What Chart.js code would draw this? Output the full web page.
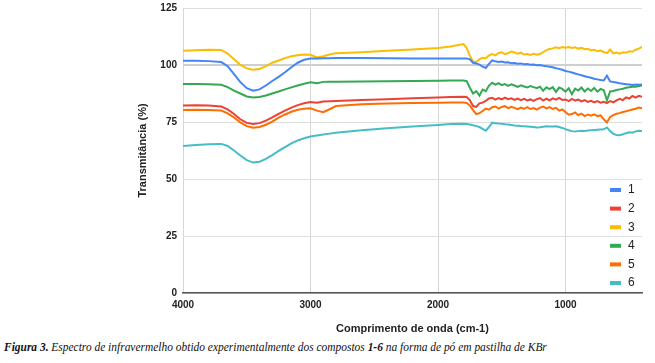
<!DOCTYPE html>
<html lang="pt">
<head>
<meta charset="UTF-8">
<title>Espectro IV</title>
<script src="https://cdn.jsdelivr.net/npm/chart.js"></script>
<style>
  body { margin: 0; background: #fff; }
  .wrap { position: relative; width: 655px; height: 363px; }
  #grafico { position: absolute; left: 0; top: 0; }
  .legenda {
    position: absolute; left: 4px; top: 340px;
    font-family: "Liberation Serif", "DejaVu Serif", serif;
    font-style: italic; font-size: 12.5px; color: #111; white-space: nowrap;
    transform: scaleX(0.915); transform-origin: 0 0;
  }
</style>
</head>
<body>
<div class="wrap">
  <canvas id="grafico" width="655" height="340"></canvas>
  <div class="legenda"><b>Figura 3.</b> Espectro de infravermelho obtido experimentalmente dos compostos <b>1-6</b> na forma de pó em pastilha de KBr</div>
</div>

<script>
// numero de onda (cm-1)
const ondas = [4000, 3900, 3800, 3700, 3650, 3600, 3550, 3500, 3450, 3400, 3350, 3300, 3250, 3200, 3150, 3100, 3050, 3000, 2950, 2900, 2850, 2800, 2600, 2400, 2200, 2000, 1900,
  1800, 1775, 1750, 1725, 1700, 1675, 1650, 1625, 1600, 1575, 1550, 1525, 1500, 1475, 1450, 1425, 1400, 1375, 1350, 1325, 1300, 1275, 1250, 1225, 1200, 1175, 1150, 1125, 1100,
  1075, 1050, 1025, 1000, 975, 950, 925, 900, 875, 850, 825, 800, 775, 750, 725, 700, 675, 650, 625, 600, 575, 550, 525, 500, 475, 450, 425, 400];

const nomes = ['1', '2', '3', '4', '5', '6'];
const cores = ['#4285F4', '#EA4335', '#FBBC04', '#34A853', '#FF6D01', '#46BDC6'];
const marcasX = [4000, 3000, 2000, 1000];
const marcasY = [0, 25, 50, 75, 100, 125];

const composto1 = [101.9, 101.9, 101.7, 101.3, 99.5, 96, 92.5, 89.8, 88.7, 89.3, 91, 93, 94.8, 96.8, 99, 101, 102.3, 102.8, 102.9, 103, 103, 103.1, 103.1, 103, 102.9, 102.8, 102.8,
  102.8, 102.9, 102.5, 101, 100.7, 100.2, 99.3, 98.7, 100.5, 102, 101.6, 101.3, 101.5, 101.1, 101.2, 100.8, 100.9, 100.6, 100.7, 100.3, 100.4, 100.1, 100.2, 99.9, 100, 99.7, 99.5, 99.2, 99,
  98.6, 98.3, 97.9, 97.4, 97.1, 96.7, 96.3, 95.9, 95.5, 95.1, 94.7, 94.4, 94, 93.7, 93.4, 93.2, 95.3, 92.8, 92.5, 92.3, 92, 91.8, 91.6, 91.4, 91.2, 91.4, 91.3, 91.5];

const composto2 = [82.2, 82.3, 82.2, 81.8, 80.5, 78.5, 76.2, 74.6, 74.1, 74.5, 75.6, 77, 78.6, 80, 81.3, 82.4, 83.2, 83.8, 83.4, 84, 84.1, 84.2, 84.6, 85, 85.4, 85.8, 86,
  86.1, 86, 84.5, 82, 81.6, 83.2, 83.5, 84.3, 85.3, 85.6, 84.8, 85.5, 84.9, 85.7, 85, 85.4, 84.7, 85.3, 84.6, 85.2, 84.5, 84.9, 84.3, 85, 85.5, 84.4, 85.2, 84.5, 85.4,
  84.8, 85.6, 84.7, 84.9, 84.2, 85.1, 84.4, 84.8, 84, 84.6, 83.8, 84.3, 83.6, 84.2, 83.5, 83.9, 83.3, 84.2, 83.6, 84.5, 85.2, 84.6, 85.8, 85.3, 86.4, 85.7, 86.5, 86];

const composto3 = [106.3, 106.5, 106.7, 106.6, 105, 102.5, 100, 98.5, 97.9, 98.2, 99.5, 101, 102, 103, 103.8, 104.3, 104.6, 104.5, 103.3, 103.8, 104.6, 105.2, 105.6, 106.2, 106.8, 107.5, 108.1,
  109.2, 107.5, 104, 101.5, 101.3, 102.5, 103.2, 103, 104.2, 104.8, 104.2, 105.3, 105.6, 104.8, 105.2, 105.9, 105.5, 105, 105.4, 104.6, 104.8, 104.4, 104.9, 104.5, 104.8, 105.6, 106.5, 107, 107.3,
  107.8, 107.4, 107.9, 107.6, 107.9, 107.5, 107.8, 107.2, 107.5, 106.9, 107.1, 106.4, 106.7, 106, 106.3, 105.7, 105.2, 106.8, 105.1, 105.5, 105, 105.6, 105.4, 106, 105.8, 106.7, 107.2, 108];

const composto4 = [91.7, 91.7, 91.6, 91.3, 90.3, 88.8, 87.5, 86.2, 85.8, 86, 86.6, 87.5, 88.4, 89.3, 90.2, 91, 91.8, 92.4, 92, 92.6, 92.7, 92.7, 92.8, 92.9, 93, 93.1, 93.2,
  93.2, 92.9, 90, 87.5, 88.5, 86.6, 89.2, 88.5, 91, 92.2, 91.4, 92, 91.2, 91.6, 90.8, 91.5, 91, 90.4, 91.1, 90.6, 90.2, 90.8, 90.3, 89.8, 90.5, 88.7, 90.2, 89.4, 90.3,
  88.2, 90.1, 89.5, 88.3, 89.8, 87.2, 89.6, 88.8, 90.1, 88.4, 89.7, 88.6, 89.9, 88.3, 89.5, 88.9, 84.5, 88.4, 88.6, 89, 89.3, 89.6, 90, 90.2, 90.5, 90.5, 90.8, 91];

const composto5 = [80.3, 80.4, 80.3, 80, 78.8, 77, 74.8, 73.2, 72.5, 72.8, 73.8, 75.2, 76.9, 78.3, 79.5, 80.4, 80.8, 81, 80, 79.3, 80.6, 82, 82.8, 83.1, 83.3, 83.4, 83.5,
  83.5, 83.3, 82.2, 80.2, 78.5, 78.9, 79.8, 80.9, 80.4, 81.5, 81.8, 80.9, 81.6, 82, 81.1, 81.7, 81.2, 80.6, 81.3, 80.8, 81.5, 80.7, 81.1, 80.4, 81.3, 81.8, 81, 81.5, 80.7,
  81.2, 80, 80.5, 79.4, 78.2, 78.5, 79.2, 78, 78.7, 77.6, 78.3, 77.8, 78.4, 77.6, 77.9, 76.2, 74.8, 77.2, 78, 78.6, 78.9, 79.4, 79.7, 80.1, 80.5, 80.8, 81.3, 81];

const composto6 = [64.5, 64.9, 65.2, 65.4, 64.5, 62.5, 60.3, 58.3, 57.2, 57.6, 58.8, 60.5, 62.3, 64, 65.6, 66.9, 67.9, 68.6, 69.1, 69.5, 69.9, 70.3, 71.4, 72.3, 73, 73.7, 74.1,
  74.2, 74.1, 73.9, 73.6, 73.2, 72.8, 72, 71.2, 72.8, 74.7, 74.5, 74.3, 74.2, 74, 73.9, 73.7, 73.5, 73.4, 73.2, 73.1, 73, 72.9, 72.8, 72.6, 72.7, 72.9, 73.1, 73, 73,
  73.1, 72.8, 72.4, 71.9, 71.4, 71, 70.8, 71, 71.2, 71.1, 71.3, 71.4, 71.5, 71.6, 71.7, 71.8, 72.6, 71, 69.8, 69.3, 69.2, 69.6, 70.1, 70.5, 70.3, 70.9, 71.2, 71];

const series = [composto1, composto2, composto3, composto4, composto5, composto6];

// legenda desenhada dentro da area do grafico (canto inferior direito)
const legendaInterna = {
  id: 'legendaInterna',
  afterDatasetsDraw(chart) {
    const ctx = chart.ctx;
    const area = chart.chartArea;
    const sets = chart.data.datasets;
    ctx.save();
    ctx.font = '12px "Liberation Sans", Arial, sans-serif';
    ctx.textBaseline = 'middle';
    for (let i = 0; i < sets.length; i++) {
      const y = area.bottom - 10 - (sets.length - 1 - i) * 18.6;
      ctx.fillStyle = sets[i].borderColor;
      ctx.fillRect(area.right - 32, y - 2, 11, 4);
      ctx.fillStyle = '#222';
      ctx.fillText(sets[i].label, area.right - 14, y);
    }
    ctx.restore();
  }
};

const dados = {
  datasets: series.map(function (valores, i) {
    return {
      label: nomes[i],
      data: ondas.map(function (x, j) { return { x: x, y: valores[j] }; }),
      borderColor: cores[i],
      backgroundColor: cores[i],
      borderWidth: 2,
      pointRadius: 0,
      tension: 0
    };
  })
};

const fonteTicks = { family: '"Liberation Sans", Arial, sans-serif', size: 10, weight: 'bold' };
const fonteTitulo = { family: '"Liberation Sans", Arial, sans-serif', size: 11, weight: 'bold' };

const config = {
  type: 'line',
  data: dados,
  plugins: [legendaInterna],
  options: {
    responsive: false,
    animation: false,
    layout: { padding: { left: 132, right: 13, top: 8, bottom: 0 } },
    plugins: { legend: { display: false }, tooltip: { enabled: false } },
    scales: {
      x: {
        type: 'linear',
        reverse: true,
        min: 400,
        max: 4000,
        afterBuildTicks: function (scale) { scale.ticks = marcasX.map(function (v) { return { value: v }; }); },
        afterFit: function (scale) { scale.height = 47; },
        ticks: { color: '#222', font: fonteTicks, padding: 6, maxRotation: 0, callback: function (v) { return String(v); } },
        grid: { color: '#d6d6d6', drawTicks: false },
        border: { color: '#555', width: 1.5 },
        title: { display: true, text: 'Comprimento de onda (cm-1)', color: '#222', font: fonteTitulo, padding: { top: 4, bottom: 4 } }
      },
      y: {
        min: 0,
        max: 125,
        afterBuildTicks: function (scale) { scale.ticks = marcasY.map(function (v) { return { value: v }; }); },
        afterFit: function (scale) { scale.width = 51; scale.paddingTop = 0; scale.paddingBottom = 0; },
        ticks: { color: '#222', font: fonteTicks, padding: 6 },
        grid: {
          drawTicks: false,
          color: function (c) { return c.tick && c.tick.value === 100 ? '#cfcfcf' : '#dedede'; },
          lineWidth: function (c) { return c.tick && c.tick.value === 100 ? 2 : 1; }
        },
        border: { display: false },
        title: { display: true, text: 'Transmitância (%)', color: '#222', font: fonteTitulo, padding: { top: 4, bottom: 4 } }
      }
    }
  }
};

new Chart(document.getElementById('grafico'), config);
</script>
</body>
</html>
